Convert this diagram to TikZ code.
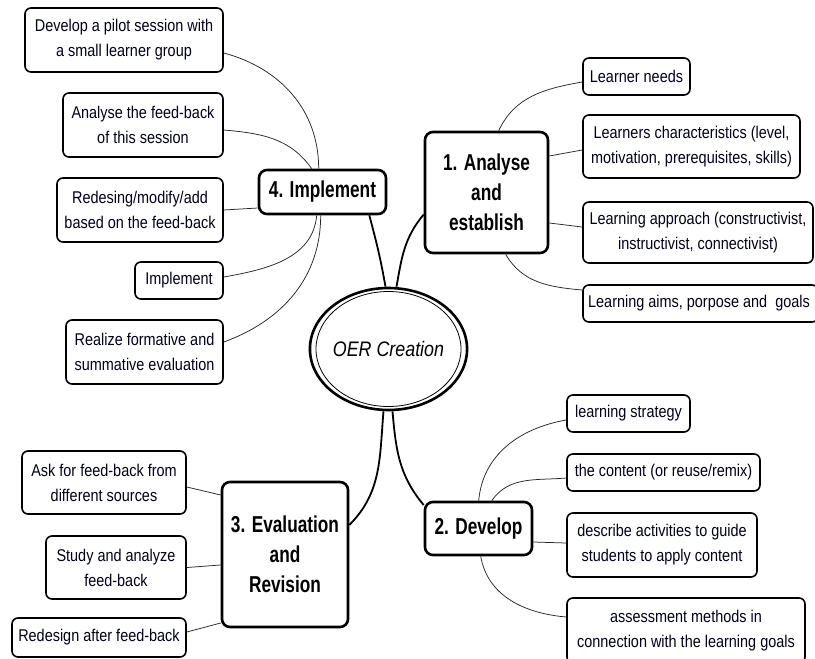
\documentclass[tikz,border=0pt]{standalone}
\usepackage{fontspec}
\setmainfont[FakeStretch=0.85]{Liberation Sans}
\newfontfamily\headfont[FakeStretch=0.75]{Liberation Sans}
\usetikzlibrary{shapes.geometric,calc}
\begin{document}
\begin{tikzpicture}[x=1pt,y=1pt,
  leaf/.style={draw=black, line width=1.6pt, rounded corners=6pt, fill=white, inner sep=0pt, align=center, font=\fontsize{17}{25}\selectfont, text=black!90!blue},
  mainbox/.style={draw=black, line width=2.6pt, rounded corners=8pt, fill=white, inner sep=0pt, align=center, font=\headfont\bfseries\fontsize{23}{30}\selectfont},
  thin/.style={draw=black!85, line width=0.75pt},
  thick/.style={draw=black, line width=1.8pt},
]
\useasboundingbox (0,0) rectangle (815,-659);
\fill[white] (0,0) rectangle (815,-659);

% ---- nodes ----
\node[ellipse, draw=black, line width=2.6pt, minimum width=153pt, minimum height=122pt, inner sep=0pt, font=\itshape\fontsize{21}{25}\selectfont] (O) at (388.5,-349) {OER Creation};
\draw[line width=0.8pt] (O.center) ellipse [x radius=72.5pt, y radius=57.5pt];

\node[mainbox, minimum width=127pt, minimum height=44pt] (I) at (322.5,-192) {4. Implement};
\node[mainbox, minimum width=123pt, minimum height=121pt] (A) at (486.5,-192.5) {1. Analyse\\and\\establish};
\node[mainbox, minimum width=107pt, minimum height=53pt] (D) at (478.5,-528.5) {2. Develop};
\node[mainbox, minimum width=126pt, minimum height=145pt] (E) at (285,-554.5) {3. Evaluation\\and\\Revision};

\node[leaf, minimum width=198pt, minimum height=64pt] (L1) at (124,-40) {Develop a pilot session with\\a small learner group};
\node[leaf, minimum width=160pt, minimum height=64pt] (L2) at (143,-125) {Analyse the feed-back\\of this session};
\node[leaf, minimum width=166pt, minimum height=64pt] (L3) at (140,-210) {Redesing/modify/add\\based on the feed-back};
\node[leaf, minimum width=88pt, minimum height=37pt] (L4) at (179,-280.5) {Implement};
\node[leaf, minimum width=157pt, minimum height=64pt] (L5) at (144.5,-352) {Realize formative and\\summative evaluation};

\node[leaf, minimum width=107pt, minimum height=37pt] (R1) at (636.5,-76.5) {Learner needs};
\node[leaf, minimum width=217pt, minimum height=63pt] (R2) at (691.5,-146.5) {Learners characteristics (level,\\motivation, prerequisites, skills)};
\node[leaf, minimum width=230pt, minimum height=61pt] (R3) at (698,-232.5) {Learning approach (constructivist,\\instructivist, connectivist)};
\node[leaf, minimum width=235pt, minimum height=37pt] (R4) at (700.5,-303.5) {Learning aims, porpose and\ \ goals\hspace*{3pt}};

\node[leaf, minimum width=123pt, minimum height=37pt] (D1) at (628.5,-413.5) {learning strategy};
\node[leaf, minimum width=193pt, minimum height=37pt] (D2) at (663.5,-472.5) {the content (or reuse/remix)};
\node[leaf, minimum width=190pt, minimum height=64pt] (D3) at (662,-545) {describe activities to guide\\students to apply content};
\node[leaf, minimum width=238pt, minimum height=65pt] (D4) at (686,-630.5) {assessment methods in\\connection with the learning goals};

\node[leaf, minimum width=164pt, minimum height=63pt] (E1) at (104,-482.5) {Ask for feed-back from\\different sources};
\node[leaf, minimum width=140pt, minimum height=63pt] (E2) at (116,-567.5) {Study and analyze\\feed-back};
\node[leaf, minimum width=174pt, minimum height=39pt] (E3) at (99,-637.5) {Redesign after feed-back};

% ---- connectors ----
\draw[thick] ($(O.north)+(-3,0)$) to[out=100,in=-75] ($(I.south east)+(-18,0)$);
\draw[thick] ($(O.north)+(8,0)$) to[out=80,in=-130] ($(A.west)+(0,-22)$);
\draw[thick] ($(O.south)+(-5,0)$) to[out=-95,in=45] ($(E.east)+(0,29.5)$);
\draw[thick] ($(O.south)+(4,0)$) to[out=-85,in=130] ($(D.west)+(0,23.5)$);

% 4. Implement
\draw[thin] ($(L1.east)+(0,-13)$) to[out=-15,in=90] ($(I.north west)+(61,0)$);
\draw[thin] ($(L2.east)+(0,-5)$) to[out=-5,in=125] ($(I.north west)+(54,0)$);
\draw[thin] (L3.east) -- ($(I.west)+(0,-16)$);
\draw[thin] ($(L4.east)+(0,3.5)$) to[out=10,in=-95] ($(I.south west)+(59,0)$);
\draw[thin] ($(L5.east)+(0,10)$) to[out=20,in=-90] ($(I.south west)+(63,0)$);

% 1. Analyse
\draw[thin] ($(A.north west)+(75,0)$) to[out=65,in=190] ($(R1.west)+(0,-5.5)$);
\draw[thin] ($(A.east)+(0,36.5)$) -- ($(R2.west)+(0,-3.5)$);
\draw[thin] ($(A.east)+(0,-30.5)$) -- ($(R3.west)+(0,5.5)$);
\draw[thin] ($(A.south west)+(82,0)$) to[out=-60,in=175] ($(R4.west)+(0,13.5)$);

% 2. Develop
\draw[thin] ($(D.north west)+(55,0)$) to[out=85,in=190] ($(D1.west)+(0,-6.5)$);
\draw[thin] ($(D.north west)+(68,0)$) to[out=55,in=185] ($(D2.west)+(0,-5.5)$);
\draw[thin] ($(D.east)+(0,-13.5)$) -- ($(D3.west)+(0,2)$);
\draw[thin] ($(D.south west)+(57,0)$) to[out=-80,in=175] ($(D4.west)+(0,13.5)$);

% 3. Evaluation
\draw[thin] ($(E1.east)+(0,-4.5)$) -- ($(E.west)+(0,59.5)$);
\draw[thin] (E2.east) -- ($(E.west)+(0,-10.5)$);
\draw[thin] ($(E3.east)+(0,5.5)$) -- ($(E.west)+(0,-68.5)$);
\end{tikzpicture}
\end{document}
